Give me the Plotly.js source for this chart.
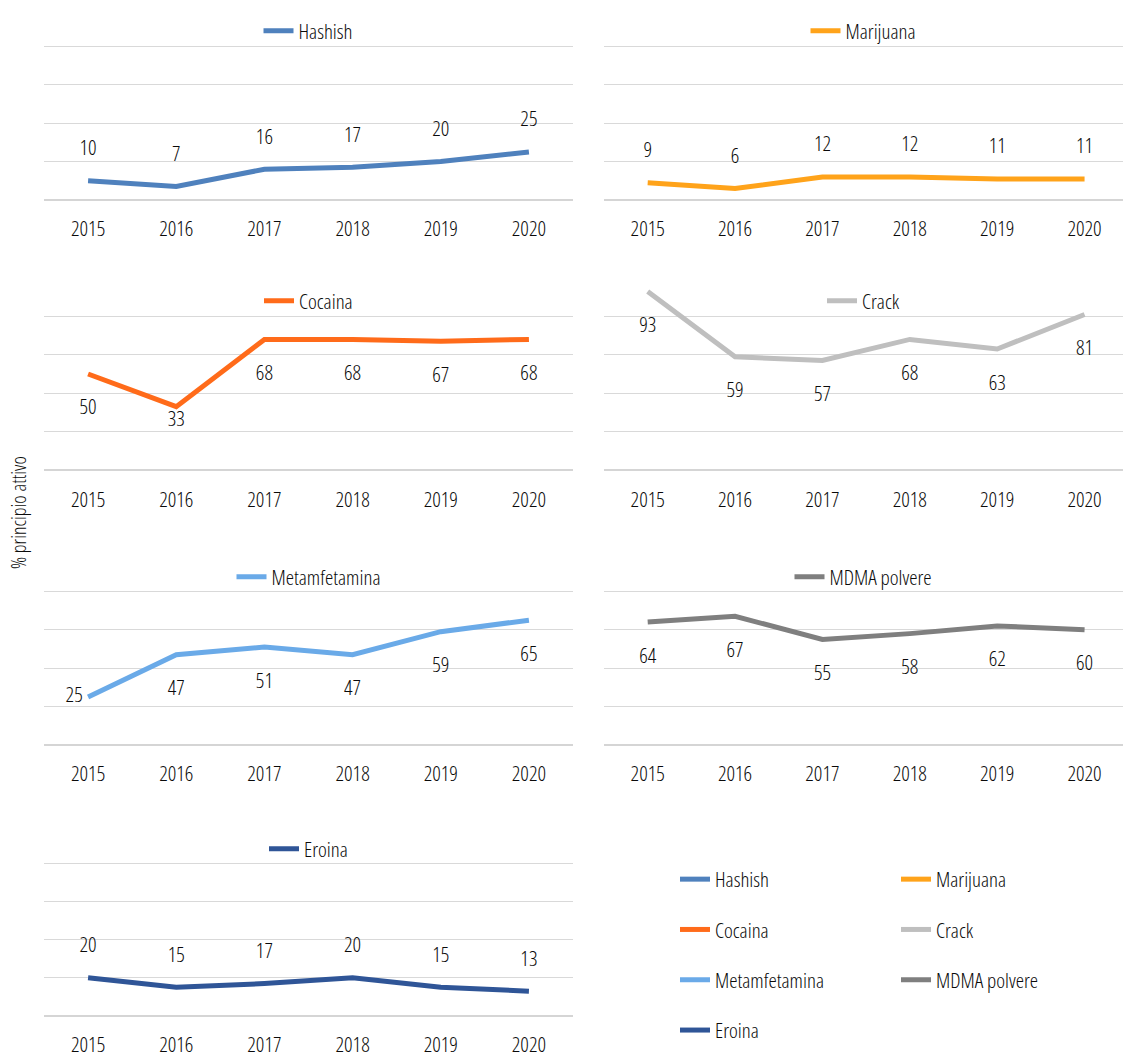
<!DOCTYPE html>
<html>
<head>
<meta charset="utf-8">
<script src="https://cdn.plot.ly/plotly-3.0.1.min.js"></script>
<style>
html,body{margin:0;padding:0;background:#fff;overflow:hidden}
text, tspan { font-stretch: 75% !important; }
</style>
</head>
<body>
<div id="chart" style="width:1123px;height:1058px"></div>
<script>
const years = ['2015', '2016', '2017', '2018', '2019', '2020'];
const hashish = [10, 7, 16, 17, 20, 25];
const marijuana = [9, 6, 12, 12, 11, 11];
const cocaina = [50, 33, 68, 68, 67, 68];
const crack = [93, 59, 57, 68, 63, 81];
const metamfetamina = [25, 47, 51, 47, 59, 65];
const mdmaPolvere = [64, 67, 55, 58, 62, 60];
const eroina = [20, 15, 17, 20, 15, 13];
const seriesNames = ['Hashish', 'Marijuana', 'Cocaina', 'Crack', 'Metamfetamina', 'MDMA polvere', 'Eroina'];
const yAxisTitle = '% principio attivo';

const FONT = '"Open Sans", "DejaVu Sans Condensed", sans-serif';
const FS = 21;
const FW = 360;
const TXT = '#0a0a0a';
const W = 1123, H = 1058;
const px2x = p => p / W;
const px2y = p => 1 - p / H;
const fnt = (s) => ({family: FONT, size: s || FS, color: TXT, weight: FW});

const colors = ['#4f81bd', '#ffa31a', '#ff6b1a', '#bfbfbf', '#6aaae8', '#7f7f7f', '#2f5597'];
const values = [hashish, marijuana, cocaina, crack, metamfetamina, mdmaPolvere, eroina];

// panel geometry (pixels)
const colX = [[44, 573], [604, 1123]];
const rowY = [[7, 200], [277, 470], [552, 745], [824, 1016]];
const legendRowY = [31, 301, 577, 849];
const tickLen = [10, 11, 10, 10];

const TOP = 31, BOT = 38;
const panelStyle = [
  {pos: 'top center', size: TOP},
  {pos: 'top center', size: TOP},
  {pos: 'bottom center', size: [BOT, 4, BOT, BOT, BOT, BOT]},
  {pos: 'bottom center', size: BOT},
  {pos: ['middle left', 'bottom center', 'bottom center', 'bottom center', 'bottom center', 'bottom center'], size: [7, BOT, BOT, BOT, BOT, BOT]},
  {pos: 'bottom center', size: BOT},
  {pos: 'top center', size: TOP}
];

const traces = [];
const layout = {
  width: W, height: H,
  margin: {l: 0, r: 0, t: 0, b: 0},
  paper_bgcolor: '#ffffff', plot_bgcolor: '#ffffff',
  font: fnt(),
  showlegend: true,
  annotations: [{
    text: yAxisTitle, xref: 'paper', yref: 'paper',
    x: px2x(18), y: px2y(513), xanchor: 'center', yanchor: 'middle',
    textangle: -90, showarrow: false, font: fnt(20)
  }]
};

for (let i = 0; i < 7; i++) {
  const row = Math.floor(i / 2), col = i % 2;
  const n = i + 1;
  const sfx = n === 1 ? '' : String(n);
  const cx = colX[col], ry = rowY[row];
  layout['xaxis' + sfx] = {
    domain: [px2x(cx[0]), px2x(cx[1])],
    anchor: 'y' + sfx, type: 'category',
    range: col === 0 ? [-0.5, 5.5] : [-0.5, 5.44],
    showgrid: false, zeroline: false, showline: false,
    ticks: 'outside', ticklen: tickLen[row], tickcolor: 'rgba(0,0,0,0)',
    tickfont: fnt(),
    fixedrange: true
  };
  layout['yaxis' + sfx] = {
    domain: [px2y(ry[1]), px2y(ry[0])],
    anchor: 'x' + sfx, range: [0, 100.5], tick0: 0, dtick: 20,
    showticklabels: false, showgrid: true, gridcolor: '#d9d9d9', gridwidth: 1.3,
    zeroline: true, zerolinecolor: '#d5d5d5', zerolinewidth: 2,
    showline: false, fixedrange: true
  };
  layout['legend' + sfx] = {
    x: px2x((cx[0] + cx[1]) / 2), xanchor: 'center',
    y: px2y(legendRowY[row]), yanchor: 'middle',
    bgcolor: 'rgba(0,0,0,0)', borderwidth: 0,
    font: fnt()
  };
  const st = panelStyle[i];
  traces.push({
    type: 'scatter', mode: 'lines+markers+text',
    x: years, y: values[i], name: seriesNames[i],
    xaxis: 'x' + sfx, yaxis: 'y' + sfx, legend: 'legend' + sfx,
    line: {color: colors[i], width: 5},
    marker: {size: st.size, color: 'rgba(0,0,0,0)', line: {width: 0}},
    text: values[i].map(String), textposition: st.pos,
    textfont: fnt(),
    cliponaxis: false, hoverinfo: 'x+y'
  });
}

// combined legend (bottom-right)
const legCols = [{name: 'legend8', x: 675, items: [0, 2, 4, 6]}, {name: 'legend9', x: 896, items: [1, 3, 5]}];
legCols.forEach(lc => {
  layout[lc.name] = {
    x: px2x(lc.x), xanchor: 'left', y: px2y(859), yanchor: 'top',
    traceorder: 'grouped', tracegroupgap: 20,
    bgcolor: 'rgba(0,0,0,0)', borderwidth: 0,
    font: fnt()
  };
  lc.items.forEach(k => {
    traces.push({
      type: 'scatter', mode: 'lines',
      x: years, y: years.map(() => null), name: seriesNames[k],
      xaxis: 'x', yaxis: 'y', legend: lc.name, legendgroup: 'all_' + k,
      line: {color: colors[k], width: 5}, hoverinfo: 'skip'
    });
  });
});

Plotly.newPlot('chart', traces, layout, {displayModeBar: false, staticPlot: true});
</script>
</body>
</html>
